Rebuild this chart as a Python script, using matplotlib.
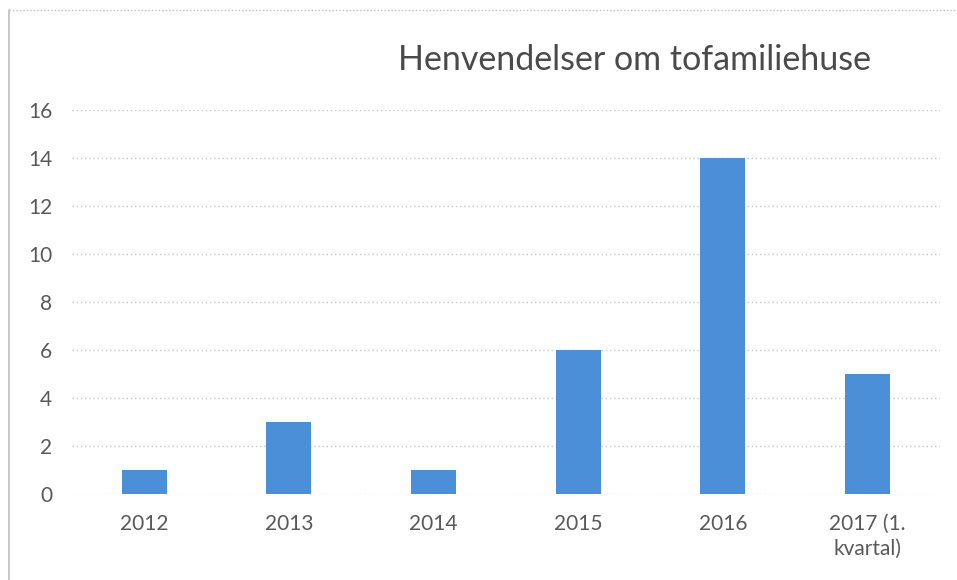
import matplotlib.pyplot as plt
from matplotlib.lines import Line2D

# —— data —— #
categories = ["2012", "2013", "2014", "2015", "2016", "2017 (1.\nkvartal)"]
values = [1, 3, 1, 6, 14, 5]
yticks = [0, 2, 4, 6, 8, 10, 12, 14, 16]

plt.rcParams["font.family"] = ["Lato", "DejaVu Sans"]
text_color = "#595959"

# —— plot —— #
fig = plt.figure(figsize=(9.57, 5.8), dpi=100)
ax = fig.add_axes([0.075, 0.148, 0.907, 0.662])

x = range(len(categories))
ax.bar(x, values, width=0.31, color="#4A8FD8", zorder=3)

ax.set_xlim(-0.5, len(categories) - 0.5)
ax.set_ylim(0, 16)
ax.set_yticks(yticks)
ax.set_xticks(list(x))
ax.set_xticklabels(categories, linespacing=1.3)
ax.tick_params(axis="both", length=0, labelsize=15, colors=text_color)
ax.tick_params(axis="x", pad=14)
ax.tick_params(axis="y", pad=14)

ax.grid(axis="y", color="#c8c8c8", linestyle=(0, (1, 2)), linewidth=1, zorder=0)
for s in ax.spines.values():
    s.set_visible(False)

fig.text(0.663, 0.896, "Henvendelser om tofamiliehuse", ha="center", va="center",
         fontsize=24.5, color="#4a4a4a")

# chart frame (top dotted, left solid)
fig.add_artist(Line2D([0.009, 1.0], [0.983, 0.983], transform=fig.transFigure,
                      color="#bfbfbf", linestyle=(0, (1, 1.5)), linewidth=1))
fig.add_artist(Line2D([0.009, 0.009], [0.0, 0.983], transform=fig.transFigure,
                      color="#bfbfbf", linewidth=1.2))

fig.savefig("out.png", dpi=100)
